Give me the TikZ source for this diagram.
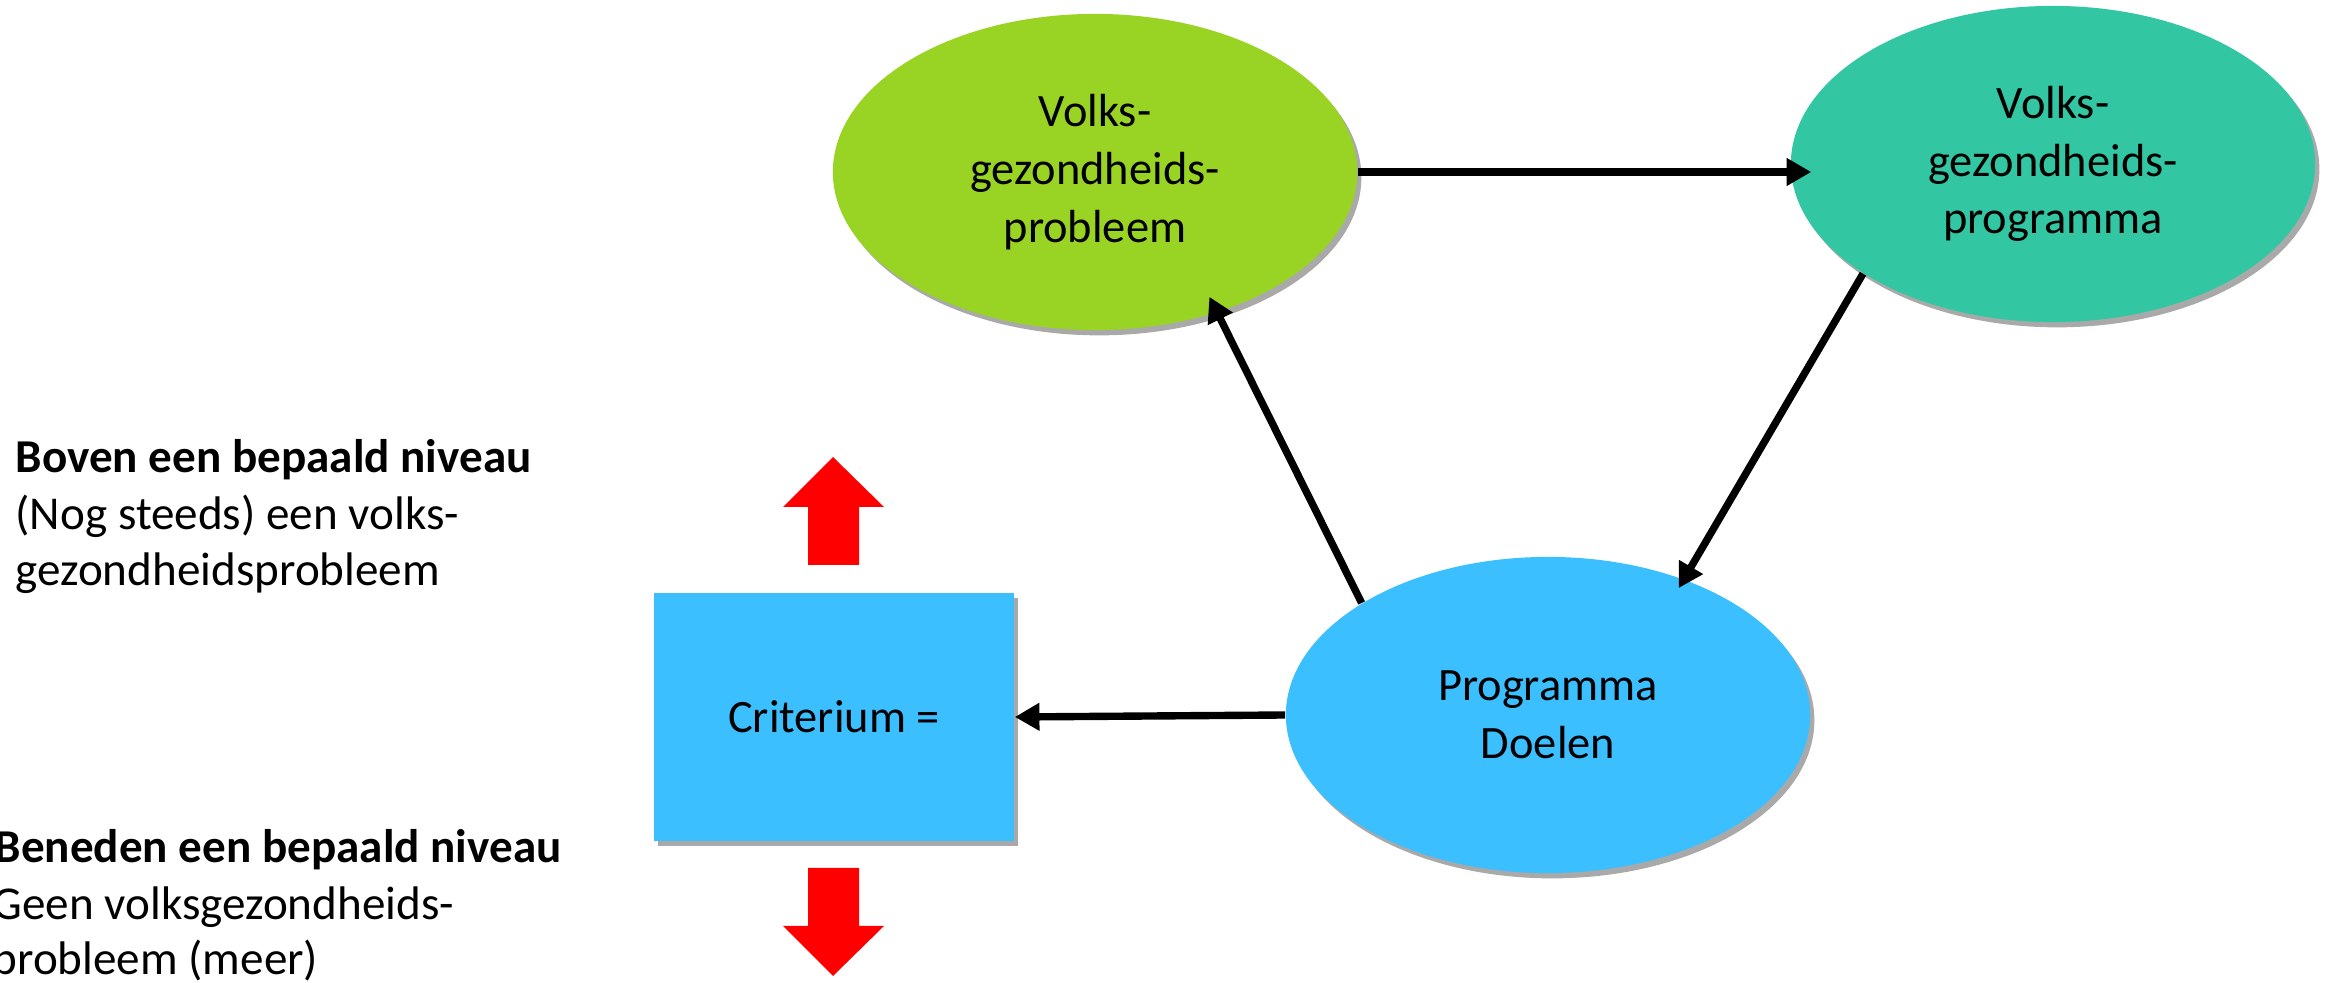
\documentclass[tikz,border=0pt]{standalone}
\usepackage{fontspec}
\setmainfont{Carlito}
\usetikzlibrary{shapes.geometric,arrows.meta,shadows}
\definecolor{cgreen}{RGB}{153,211,35}
\definecolor{cteal}{RGB}{51,198,163}
\definecolor{cblue}{RGB}{59,191,255}
\begin{document}
\begin{tikzpicture}[x=0.01cm,y=-0.01cm,
  softshadow/.style={drop shadow={shadow xshift=1.2pt, shadow yshift=-1.5pt, opacity=0.45, fill=black!75}},
  bubble/.style={ellipse, minimum width=5.24cm, minimum height=3.16cm, inner sep=0pt, align=center,
    font=\fontsize{13.2}{16.4}\selectfont, softshadow},
  boxnode/.style={rectangle, minimum width=3.6cm, minimum height=2.48cm, inner sep=0pt,
    font=\fontsize{13.2}{16.4}\selectfont, fill=cblue, softshadow},
  conn/.style={line width=2.1pt, -{Triangle[length=7pt,width=7.5pt]}},
  side/.style={anchor=base west, inner sep=0pt, font=\fontsize{13.4}{16}\selectfont},
  redarrow/.style={fill=red}
]
\useasboundingbox (0,0) rectangle (2330,983);

\node[bubble, fill=cgreen] (e1) at (1095,172) {Volks-\\gezondheids-\\probleem};
\node[bubble, fill=cteal] (e2) at (2053,164) {Volks-\\gezondheids-\\programma};
\node[bubble, fill=cblue] (e3) at (1548,715) {Programma\\Doelen};
\node[boxnode] (crit) at (834,717) {Criterium =};

\draw[conn, shorten >=-6pt] (e1.east) -- (e2.west |- e1.east);
\draw[conn, shorten >=-3pt] (e2.210.8) -- (e3.45);
\draw[conn, shorten >=-5pt] (e3.149.4) -- (e1.311);
\draw[conn] (e3.west) -- (crit.east);

% red block arrows
\fill[redarrow] (833,457) -- (884,507) -- (859,507) -- (859,565) -- (808,565) -- (808,507) -- (783,507) -- cycle;
\fill[redarrow] (833,976) -- (884,926) -- (859,926) -- (859,868) -- (808,868) -- (808,926) -- (783,926) -- cycle;

% side texts
\node[side] (t1) at (15,473) {\textbf{Boven een bepaald niveau}};
\node[side] (t2) at (15,530) {(Nog steeds) een volks-};
\node[side] (t3) at (15,586) {gezondheidsprobleem};
\node[side] (b1) at (-6,863) {\textbf{Beneden een bepaald niveau}};
\node[side] (b2) at (-8,920) {Geen volksgezondheids-};
\node[side] (b3) at (-8,975) {probleem (meer)};
\end{tikzpicture}
\end{document}
